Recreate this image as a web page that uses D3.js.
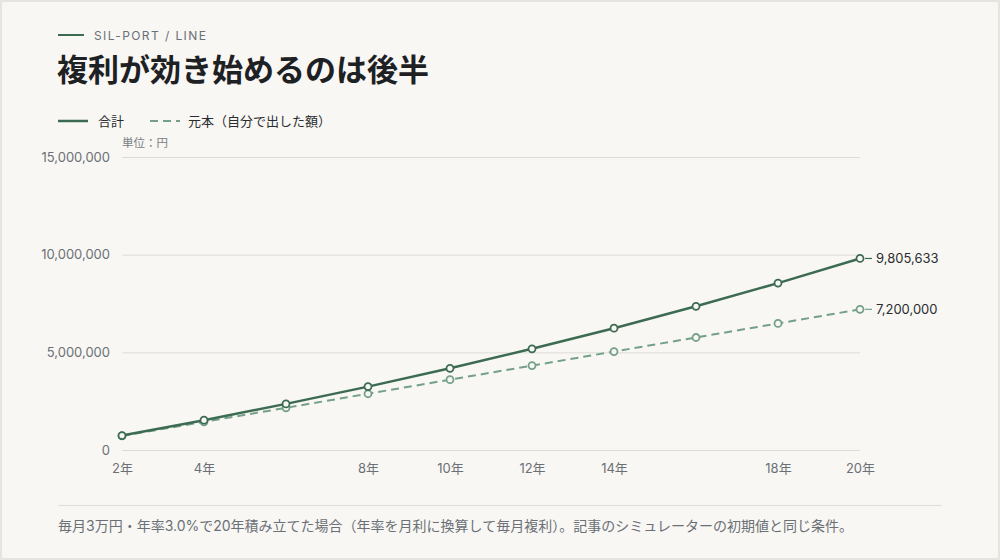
<!DOCTYPE html>
<html>
<head>
<meta charset="utf-8">
<script src="https://cdn.jsdelivr.net/npm/d3@7"></script>
<style>
  html, body { margin: 0; padding: 0; background: #f8f7f3; }
  svg { display: block; }
</style>
</head>
<body>
<script>
// data (年, 合計 = 毎月複利, 元本 = 積立額)
const years = [2, 4, 6, 8, 10, 12, 14, 16, 18, 20];
const totalValues = [740795, 1526704, 2360474, 3245022, 4183438, 5179004, 6235201, 7355719, 8544477, 9805633];
const principalValues = [720000, 1440000, 2160000, 2880000, 3600000, 4320000, 5040000, 5760000, 6480000, 7200000];
const xTicks = [2, 4, 8, 10, 12, 14, 18, 20];
const yTicks = [0, 5000000, 10000000, 15000000];

const width = 1000, height = 560;
const font = "Inter, 'Noto Sans CJK JP', sans-serif";
const green = "#3d6b52", lightGreen = "#74a088";

const svg = d3.select("body").append("svg")
    .attr("width", width)
    .attr("height", height)
    .attr("font-family", font);

svg.append("rect")
    .attr("x", 1).attr("y", 1)
    .attr("width", width - 2).attr("height", height - 2)
    .attr("fill", "#f8f7f3")
    .attr("stroke", "#e6e4de")
    .attr("stroke-width", 2);

// header
svg.append("line")
    .attr("x1", 58).attr("x2", 84).attr("y1", 35).attr("y2", 35)
    .attr("stroke", green).attr("stroke-width", 2);
svg.append("text")
    .attr("x", 94).attr("y", 39.5)
    .attr("font-size", 12).attr("letter-spacing", "1.4px")
    .attr("fill", "#6b7077")
    .text("SIL-PORT / LINE");
svg.append("text")
    .attr("x", 57).attr("y", 81)
    .attr("font-size", 31).attr("font-weight", "bold")
    .attr("fill", "#1e2124")
    .text("複利が効き始めるのは後半");

// legend
const legend = svg.append("g").attr("font-size", 13).attr("fill", "#2a2d30");
legend.append("line").attr("x1", 58).attr("x2", 88).attr("y1", 121).attr("y2", 121)
    .attr("stroke", green).attr("stroke-width", 2.5);
legend.append("text").attr("x", 98).attr("y", 125.5).text("合計");
legend.append("line").attr("x1", 150).attr("x2", 180).attr("y1", 121).attr("y2", 121)
    .attr("stroke", lightGreen).attr("stroke-width", 2).attr("stroke-dasharray", "8 5");
legend.append("text").attr("x", 188).attr("y", 125.5).text("元本（自分で出した額）");

svg.append("text")
    .attr("x", 122).attr("y", 147)
    .attr("font-size", 11.5).attr("fill", "#7a7f86")
    .text("単位：円");

// scales
const x = d3.scaleLinear().domain([2, 20]).range([122, 860]);
const y = d3.scaleLinear().domain([0, 15000000]).range([450, 157]);

// y axis with grid
svg.append("g")
    .attr("transform", "translate(122,0)")
    .call(d3.axisLeft(y).tickValues(yTicks).tickSize(-(860 - 122)).tickPadding(12)
        .tickFormat(d3.format(",")))
    .call(g => g.select(".domain").remove())
    .call(g => g.selectAll(".tick line").attr("stroke", "#dedcd6").attr("stroke-width", 1))
    .call(g => g.selectAll(".tick text").attr("fill", "#6b7077").attr("font-size", 13)
        .attr("font-family", font));

// x axis
svg.append("g")
    .attr("transform", "translate(0,450)")
    .call(d3.axisBottom(x).tickValues(xTicks).tickSize(0).tickPadding(14)
        .tickFormat(d => d + "年"))
    .call(g => g.select(".domain").remove())
    .call(g => g.selectAll(".tick text").attr("fill", "#6b7077").attr("font-size", 13)
        .attr("font-family", font));

// lines
const series = [
  { key: "principal", values: principalValues, color: lightGreen, width: 2, dash: "8 5" },
  { key: "total", values: totalValues, color: green, width: 2.5, dash: null }
];

const line = d3.line().x(d => x(d[0])).y(d => y(d[1]));

series.forEach(s => {
  const pts = years.map((yr, i) => [yr, s.values[i]]);
  svg.append("path")
      .datum(pts)
      .attr("fill", "none")
      .attr("stroke", s.color)
      .attr("stroke-width", s.width)
      .attr("stroke-dasharray", s.dash)
      .attr("d", line);
  svg.append("g")
    .selectAll("circle")
    .data(pts)
    .join("circle")
      .attr("cx", d => x(d[0]))
      .attr("cy", d => y(d[1]))
      .attr("r", 3.5)
      .attr("fill", "#f8f7f3")
      .attr("stroke", s.color)
      .attr("stroke-width", 1.8);

  const last = pts[pts.length - 1];
  svg.append("line")
      .attr("x1", x(last[0]) + 5).attr("x2", x(last[0]) + 12)
      .attr("y1", y(last[1])).attr("y2", y(last[1]))
      .attr("stroke", s.color).attr("stroke-width", 1.2);
  svg.append("text")
      .attr("x", x(last[0]) + 16).attr("y", y(last[1]))
      .attr("dy", "0.35em")
      .attr("font-size", 13).attr("fill", "#2a2d30")
      .text(d3.format(",")(last[1]));
});

// footnote
svg.append("line")
    .attr("x1", 58).attr("x2", 942).attr("y1", 505.5).attr("y2", 505.5)
    .attr("stroke", "#e0ded8").attr("stroke-width", 1);
svg.append("text")
    .attr("x", 58).attr("y", 531)
    .attr("font-size", 14).attr("fill", "#6b7077")
    .text("毎月3万円・年率3.0%で20年積み立てた場合（年率を月利に換算して毎月複利）。記事のシミュレーターの初期値と同じ条件。");
</script>
</body>
</html>
